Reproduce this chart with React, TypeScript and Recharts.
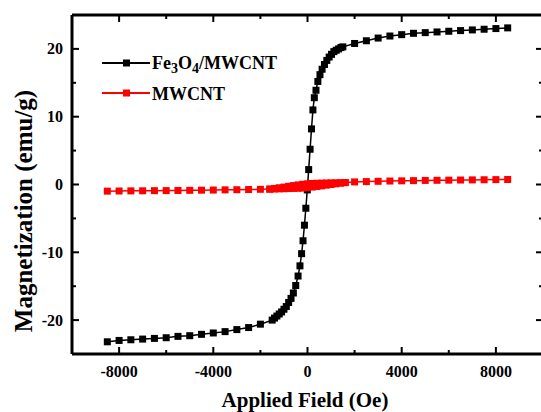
import React from "react";
import { LineChart, Line, XAxis, YAxis } from "recharts";

// Fe3O4/MWCNT hysteresis (one sweep, Oe vs emu/g)
const feField = [
  -8500, -8000, -7500, -7000, -6500, -6000, -5500, -5000, -4500, -4000, -3500, -3000, -2500, -2000,
  -1500, -1400, -1300, -1200, -1100, -1000, -900, -800, -700, -600, -500,
  -400, -320, -250, -190, -130, -70, -10, 50, 110, 170, 230, 290, 360, 440, 530, 620, 720, 820, 920, 1020,
  1120, 1220, 1320, 1420, 1500,
  2000, 2500, 3000, 3500, 4000, 4500, 5000, 5500, 6000, 6500, 7000, 7500, 8000, 8500,
];
const feMag = [
  -23.2, -23.0, -22.9, -22.8, -22.7, -22.6, -22.4, -22.3, -22.1, -21.9, -21.7, -21.4, -21.1, -20.6,
  -20.0, -19.7, -19.4, -19.1, -18.8, -18.4, -18.0, -17.4, -16.8, -16.0, -14.9,
  -13.5, -12.0, -10.2, -8.3, -6.0, -3.5, -0.8, 2.2, 5.2, 8.2, 11.0, 12.8, 13.9, 15.2, 16.2, 17.0, 17.7, 18.3, 18.8, 19.2,
  19.6, 19.8, 20.0, 20.2, 20.3,
  20.8, 21.2, 21.6, 21.9, 22.1, 22.3, 22.4, 22.5, 22.6, 22.7, 22.8, 22.9, 23.0, 23.1,
];

// MWCNT: ascending sweep + return branch near the origin
const mwField = [
  -8500, -8000, -7500, -7000, -6500, -6000, -5500, -5000, -4500, -4000, -3500, -3000, -2500, -2000,
  -1600, -1400, -1200, -1000, -800, -600, -400, -200, 0, 200, 400, 600, 800, 1000, 1200, 1400, 1600,
  2000, 2500, 3000, 3500, 4000, 4500, 5000, 5500, 6000, 6500, 7000, 7500, 8000, 8500,
];
const mwMag = [
  -0.98, -0.96, -0.94, -0.93, -0.91, -0.9, -0.88, -0.86, -0.84, -0.82, -0.79, -0.77, -0.74, -0.71,
  -0.68, -0.66, -0.64, -0.62, -0.6, -0.58, -0.56, -0.52, -0.46, -0.38, -0.29, -0.2, -0.1, 0.0, 0.1, 0.19, 0.28,
  0.38, 0.43, 0.47, 0.51, 0.54, 0.57, 0.6, 0.62, 0.64, 0.66, 0.68, 0.7, 0.72, 0.74,
];
const mwReturnField = [-1600, -1400, -1200, -1000, -800, -600, -400, -200, 0, 200, 400, 600, 800, 1000, 1200, 1400, 1600];
const mwReturnMag = [-0.68, -0.58, -0.48, -0.38, -0.27, -0.16, -0.06, 0.03, 0.1, 0.15, 0.18, 0.2, 0.22, 0.24, 0.25, 0.27, 0.28];

const xTicks = [-8000, -6000, -4000, -2000, 0, 2000, 4000, 6000, 8000];
const yTicks = [-20, -15, -10, -5, 0, 5, 10, 15, 20];

const feData = feField.map((f, i) => ({ field: f, mag: feMag[i] }));
const mwData = mwField.map((f, i) => ({ field: f, mag: mwMag[i] }));
const mwReturnData = mwReturnField.map((f, i) => ({ field: f, mag: mwReturnMag[i] }));

const FONT = "'Liberation Serif', 'Times New Roman', serif";

const squareDot = (color: string) => (props: any) => {
  const { cx, cy, index } = props;
  return <rect key={`d-${index}`} x={cx - 3.5} y={cy - 3.5} width={7} height={7} fill={color} />;
};

const BottomTick = (props: any) => {
  const { x, y, payload } = props;
  const major = payload.value % 4000 === 0;
  return (
    <g>
      <line x1={x} x2={x} y1={y} y2={y - (major ? 7 : 4)} stroke="#000" strokeWidth={2} />
      {major && (
        <text x={x} y={y + 23} textAnchor="middle" fontFamily={FONT} fontWeight="bold" fontSize={16} fill="#000">
          {payload.value}
        </text>
      )}
    </g>
  );
};

const TopTick = (props: any) => {
  const { x, y, payload } = props;
  const major = payload.value % 4000 === 0;
  return <line x1={x} x2={x} y1={y} y2={y + (major ? 7 : 4)} stroke="#000" strokeWidth={2} />;
};

const LeftTick = (props: any) => {
  const { x, y, payload } = props;
  const major = payload.value % 10 === 0;
  return (
    <g>
      <line x1={x} x2={x + (major ? 7 : 4)} y1={y} y2={y} stroke="#000" strokeWidth={2} />
      {major && (
        <text x={x - 9} y={y + 5.5} textAnchor="end" fontFamily={FONT} fontWeight="bold" fontSize={16} fill="#000">
          {payload.value}
        </text>
      )}
    </g>
  );
};

const RightTick = (props: any) => {
  const { x, y, payload } = props;
  const major = payload.value % 10 === 0;
  return <line x1={x} x2={x - (major ? 7 : 4)} y1={y} y2={y} stroke="#000" strokeWidth={2} />;
};

const legendText: React.CSSProperties = {
  position: "absolute",
  fontFamily: FONT,
  fontWeight: "bold",
  fontSize: 18,
  color: "#000",
  whiteSpace: "nowrap",
  lineHeight: 1,
};

function LegendMark({ color, top }: { color: string; top: number }) {
  return (
    <svg style={{ position: "absolute", left: 102, top: top - 5 }} width={48} height={10}>
      <line x1={0} x2={48} y1={5} y2={5} stroke={color} strokeWidth={2} />
      <rect x={21} y={1.5} width={7} height={7} fill={color} />
    </svg>
  );
}

const axisStroke = { stroke: "#000", strokeWidth: 3 };

export default function App() {
  return (
    <div style={{ position: "fixed", left: 0, top: 0, width: 541, height: 412, overflow: "hidden", background: "#fff" }}>
      <LineChart width={565} height={412} margin={{ top: 5, right: 12, bottom: 28, left: 32 }}>
        <XAxis
          xAxisId="bottom"
          dataKey="field"
          type="number"
          domain={[-10000, 10000]}
          ticks={xTicks}
          interval={0}
          height={30}
          tickSize={0}
          tickMargin={0}
          tickLine={false}
          tick={BottomTick}
          axisLine={axisStroke}
          allowDataOverflow
        />
        <XAxis
          xAxisId="top"
          orientation="top"
          dataKey="field"
          type="number"
          domain={[-10000, 10000]}
          ticks={xTicks}
          interval={0}
          height={10}
          tickSize={0}
          tickMargin={0}
          tickLine={false}
          tick={TopTick}
          axisLine={axisStroke}
          allowDataOverflow
        />
        <YAxis
          yAxisId="left"
          type="number"
          domain={[-25, 25]}
          ticks={yTicks}
          interval={0}
          width={40}
          tickSize={0}
          tickMargin={0}
          tickLine={false}
          tick={LeftTick}
          axisLine={axisStroke}
          allowDataOverflow
        />
        <YAxis
          yAxisId="right"
          orientation="right"
          type="number"
          domain={[-25, 25]}
          ticks={yTicks}
          interval={0}
          width={10}
          tickSize={0}
          tickMargin={0}
          tickLine={false}
          tick={RightTick}
          axisLine={axisStroke}
          allowDataOverflow
        />
        <Line
          xAxisId="bottom"
          yAxisId="left"
          data={feData}
          dataKey="mag"
          name="Fe3O4/MWCNT"
          stroke="#000"
          strokeWidth={1.5}
          dot={squareDot("#000")}
          isAnimationActive={false}
        />
        <Line
          xAxisId="bottom"
          yAxisId="left"
          data={mwData}
          dataKey="mag"
          name="MWCNT"
          stroke="#ff0000"
          strokeWidth={1.5}
          dot={squareDot("#ff0000")}
          isAnimationActive={false}
        />
        <Line
          xAxisId="bottom"
          yAxisId="left"
          data={mwReturnData}
          dataKey="mag"
          name="MWCNT return"
          stroke="#ff0000"
          strokeWidth={1.5}
          dot={squareDot("#ff0000")}
          isAnimationActive={false}
        />
      </LineChart>

      <LegendMark color="#000" top={63} />
      <div style={{ ...legendText, left: 152, top: 54 }}>
        Fe<sub style={{ fontSize: 14, verticalAlign: -4 }}>3</sub>O<sub style={{ fontSize: 14, verticalAlign: -4 }}>4</sub>/MWCNT
      </div>
      <LegendMark color="#ff0000" top={93} />
      <div style={{ ...legendText, left: 152, top: 85 }}>MWCNT</div>

      <div
        style={{
          position: "absolute",
          left: 305,
          top: 400,
          transform: "translate(-50%, -50%)",
          fontFamily: FONT,
          fontWeight: "bold",
          fontSize: 21,
          whiteSpace: "nowrap",
          lineHeight: 1,
        }}
      >
        Applied Field (Oe)
      </div>
      <div
        style={{
          position: "absolute",
          left: 23,
          top: 211,
          transform: "translate(-50%, -50%) rotate(-90deg)",
          fontFamily: FONT,
          fontWeight: "bold",
          fontSize: 25,
          whiteSpace: "nowrap",
          lineHeight: 1,
        }}
      >
        Magnetization (emu/g)
      </div>
    </div>
  );
}
